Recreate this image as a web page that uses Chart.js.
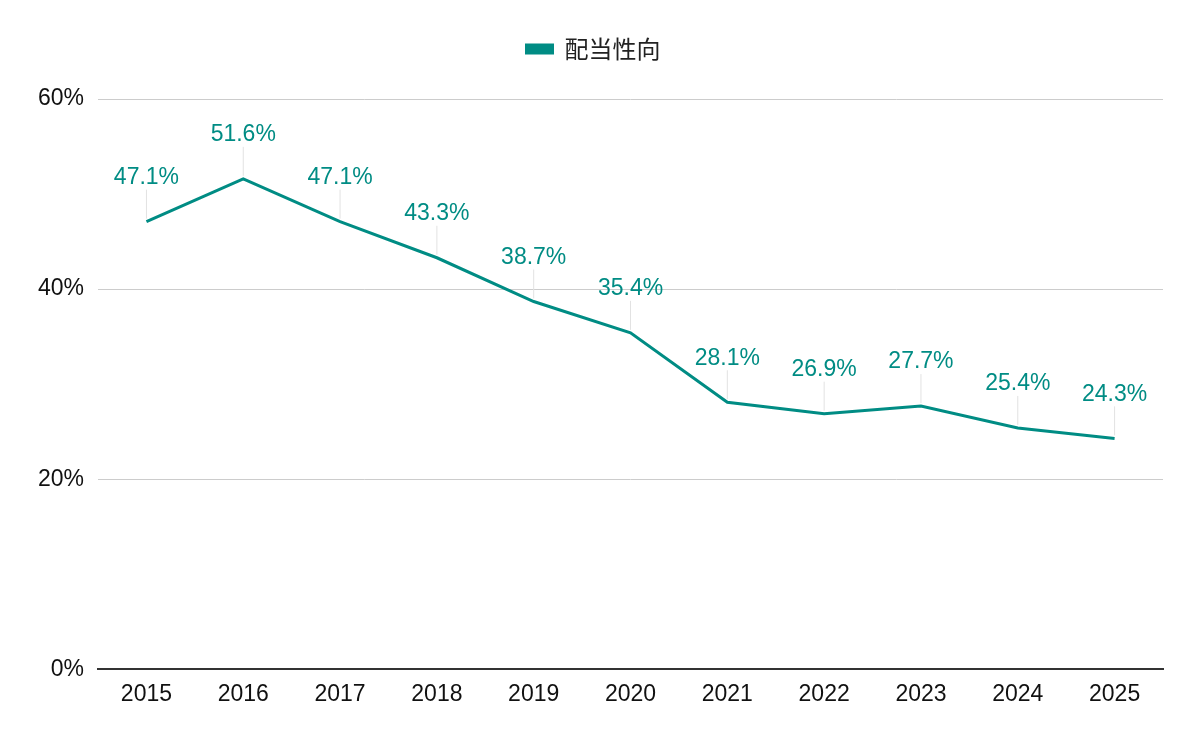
<!DOCTYPE html>
<html>
<head>
<meta charset="utf-8">
<script src="https://cdn.jsdelivr.net/npm/chart.js@4"></script>
<style>
  html, body { margin: 0; padding: 0; background: #fff; }
  #wrap { width: 1200px; height: 742px; }
</style>
</head>
<body>
<div id="wrap"><canvas id="payoutChart"></canvas></div>
<script>
const years = ['2015', '2016', '2017', '2018', '2019', '2020', '2021', '2022', '2023', '2024', '2025'];
const payoutRatio = [47.1, 51.6, 47.1, 43.3, 38.7, 35.4, 28.1, 26.9, 27.7, 25.4, 24.3];
const seriesName = '配当性向';
const teal = '#008c84';
const latin = '"Liberation Sans", Arial, sans-serif';

// Werte über den Punkten mit dünner Hilfslinie
const pointLabels = {
    id: 'pointLabels',
    afterDatasetsDraw(chart) {
        const ctx = chart.ctx;
        const meta = chart.getDatasetMeta(0);
        ctx.save();
        meta.data.forEach((pt, i) => {
            ctx.strokeStyle = '#e2e2e2';
            ctx.lineWidth = 1;
            ctx.beginPath();
            ctx.moveTo(pt.x, pt.y - 3);
            ctx.lineTo(pt.x, pt.y - 32);
            ctx.stroke();
            ctx.fillStyle = teal;
            ctx.font = '23px ' + latin;
            ctx.textAlign = 'center';
            ctx.textBaseline = 'middle';
            ctx.fillText(payoutRatio[i].toFixed(1) + '%', pt.x, pt.y - 44);
        });
        ctx.restore();
    }
};

// mehr Abstand unter der Legende
const legendGap = {
    id: 'legendGap',
    beforeInit(chart) {
        const fit = chart.legend.fit;
        chart.legend.fit = function () {
            fit.bind(chart.legend)();
            this.height += 28;
        };
    }
};

const ctx = document.getElementById('payoutChart').getContext('2d');
new Chart(ctx, {
    type: 'line',
    data: {
        labels: years,
        datasets: [{
            label: seriesName,
            data: payoutRatio,
            borderColor: teal,
            backgroundColor: teal,
            borderWidth: 3,
            pointRadius: 0,
            tension: 0
        }]
    },
    options: {
        responsive: true,
        maintainAspectRatio: false,
        animation: false,
        layout: { padding: { left: 24, right: 37, top: 19, bottom: 23 } },
        plugins: {
            legend: {
                position: 'top',
                labels: {
                    boxWidth: 26,
                    boxHeight: 8,
                    padding: 18,
                    color: '#222',
                    font: { size: 24, family: '"Noto Sans CJK JP", sans-serif' }
                }
            },
            tooltip: { enabled: false }
        },
        scales: {
            x: {
                offset: true,
                grid: { display: false, drawTicks: false },
                border: { display: true, color: '#333', width: 2 },
                ticks: {
                    color: '#111',
                    padding: 11,
                    font: { size: 23, family: latin }
                }
            },
            y: {
                min: 0,
                max: 60,
                grid: { color: '#cccccc', drawTicks: false },
                border: { display: false },
                ticks: {
                    stepSize: 20,
                    padding: 14,
                    color: '#111',
                    font: { size: 23, family: latin },
                    callback: v => v + '%'
                }
            }
        }
    },
    plugins: [pointLabels, legendGap]
});
</script>
</body>
</html>
